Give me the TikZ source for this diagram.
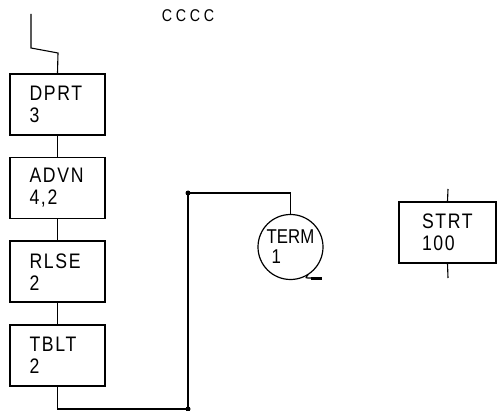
\documentclass[tikz,border=0pt]{standalone}
\usepackage{fontspec}
\setmainfont{Liberation Sans}[FakeStretch=0.84, LetterSpace=8]
\usetikzlibrary{positioning}

\begin{document}
\begin{tikzpicture}[
  x=1pt, y=-1pt,
  node distance=21pt,
  blockbox/.style={draw, line width=1.6pt, minimum width=95pt, minimum height=61pt,
    text width=56pt, inner xsep=19pt, align=left, font=\fontsize{21}{22}\selectfont},
  termcirc/.style={draw, circle, line width=1.2pt, minimum size=65pt, inner sep=0pt,
    align=left, font=\fontsize{20}{20}\selectfont\addfontfeature{LetterSpace=0}},
  wire/.style={line width=1.1pt},
  dot/.style={circle, fill, inner sep=0pt, minimum size=5pt}
]
  \useasboundingbox (0,0) rectangle (497,411);

  \node[font=\fontsize{17}{18}\selectfont\addfontfeature{LetterSpace=22}] (title) at (188,16) {CCCC};

  % main block chain
  \node[blockbox] (dprt) at (57.5,104.5) {DPRT\\3};
  \node[blockbox, below=of dprt] (advn) {ADVN\\4,2};
  \node[blockbox, below=of advn] (rlse) {RLSE\\2};
  \node[blockbox, below=of rlse] (tblt) {TBLT\\2};

  \node[termcirc] (term) at (290.5,247) {TERM\\\hspace*{5pt}1};
  \node[blockbox, minimum width=97pt, inner xsep=23pt, text width=51pt] (strt) at (447.5,232.5) {STRT\\100};

  \coordinate (entry) at (31,14);
  \coordinate (bend) at (31,48);
  \coordinate (j1) at (188,193);
  \coordinate (j2) at (188,409);
  \coordinate (sin) at (448,189);
  \coordinate (sout) at (448,278);
  \coordinate (tail) at (322,278);

  \draw[wire] (entry) -- (bend) -- (58,53) -- (dprt.north);
  \draw[wire] (dprt) -- (advn);
  \draw[wire] (advn) -- (rlse);
  \draw[wire] (rlse) -- (tblt);
  \draw[wire] (tblt.south) |- (j2) -- (j1) -| (term.north);
  \draw[wire] (sin) -- (strt.north);
  \draw[wire] (strt.south) -- (sout);
  \node[dot] at (j1) {};
  \node[dot] at (j2) {};

  % tail of the terminal symbol
  \draw[line width=1.2pt] (term.-58) .. controls (305,278) .. (311,278);
  \draw[line width=3pt] (311,278) -- (tail);
\end{tikzpicture}
\end{document}
